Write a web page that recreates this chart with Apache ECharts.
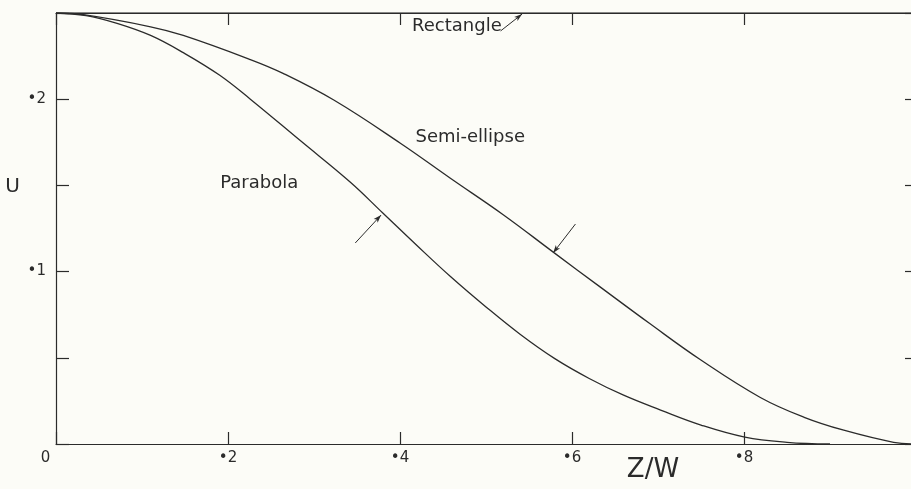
<!DOCTYPE html>
<html><head><meta charset="utf-8">
<script src="https://cdn.jsdelivr.net/npm/echarts@6/dist/echarts.min.js"></script>
<style>html,body{margin:0;padding:0;background:#fcfcf7}#c{width:911px;height:489px}</style>
</head><body><div id="c"></div><script>
// Z/W positions of the x ticks and the lettering under them
const zTicks = [0, 0.2, 0.4, 0.6, 0.8, 1.0];
const zTickLabels = ['0', '•2', '•4', '•6', '•8', ''];
// U ticks every 0.05, lettered only at 0.1 and 0.2
const uTickLabels = { 10: '•1', 20: '•2' };

// U against Z/W for each cross-section shape
const parabola = [
  [0, 0.25], [0.035, 0.2485], [0.071, 0.244], [0.11, 0.237], [0.148, 0.227],
  [0.19, 0.214], [0.226, 0.2], [0.284, 0.176], [0.342, 0.152], [0.38, 0.134],
  [0.42, 0.115], [0.459, 0.097], [0.5, 0.0795], [0.54, 0.0635], [0.58, 0.0495],
  [0.62, 0.038], [0.66, 0.0283], [0.703, 0.0197], [0.75, 0.011], [0.801, 0.004],
  [0.85, 0.001], [0.9, 0]
];
const semiEllipse = [
  [0, 0.25], [0.032, 0.249], [0.11, 0.242], [0.148, 0.237], [0.226, 0.223],
  [0.264, 0.215], [0.323, 0.1995], [0.4, 0.1746], [0.459, 0.154], [0.52, 0.133],
  [0.579, 0.111], [0.633, 0.091], [0.69, 0.07], [0.749, 0.049], [0.819, 0.027],
  [0.87, 0.0155], [0.916, 0.008], [0.974, 0.001], [1.0, 0]
];
const rectangle = [[0, 0.25], [1.0, 0.25]];

// curve names and where their lettering starts (data coords, left edge / middle)
const curveNames = ['Parabola', 'Semi-ellipse', 'Rectangle'];
const namePos = [[0.191, 0.151], [0.418, 0.178], [0.414, 0.242]];
// pointer arrows: tail -> head, data coords
const pointers = [
  [[0.348, 0.1166], [0.378, 0.1328]],
  [[0.604, 0.1276], [0.578, 0.1108]],
  [[0.517, 0.2396], [0.542, 0.2494]]
];
const pointerCurve = [0, 0, -0.35];

const INK = '#2b2b2b';
const FONT = 'DejaVu Sans';

const chart = echarts.init(document.getElementById('c'), null, { renderer: 'canvas' });

function pointerLine(i) {
  return {
    silent: true,
    symbol: ['none', 'arrow'],
    symbolSize: [4, 8],
    lineStyle: { color: INK, width: 1, type: 'solid', curveness: pointerCurve[i] },
    itemStyle: { color: INK },
    label: { show: false },
    data: [[{ coord: pointers[i][0] }, { coord: pointers[i][1] }]]
  };
}

const curveStyle = { color: INK, width: 1.3 };
const frameLine = { show: true, onZero: false, lineStyle: { color: INK, width: 1.2 } };

chart.setOption({
  backgroundColor: '#fcfcf7',
  animation: false,
  grid: { left: 56, top: 13, width: 860, height: 431, containLabel: false, outerBoundsMode: 'none' },
  xAxis: [{
    type: 'value', min: 0, max: 1, interval: 0.2, position: 'bottom',
    name: 'Z/W', nameLocation: 'middle', nameGap: 13, nameMoveOverlap: false,
    nameTextStyle: { fontFamily: FONT, fontSize: 26, color: INK, padding: [0, 0, 0, 334] },
    axisLine: frameLine,
    axisTick: { show: true, inside: true, length: 12, lineStyle: { color: INK, width: 1.2 } },
    splitLine: { show: false },
    axisLabel: {
      margin: 7, color: INK, fontFamily: FONT, fontSize: 15,
      formatter: v => {
        const t = zTickLabels[Math.round(v * 5)] || '';
        return v === 0 ? '{o|' + t + '}' : t;
      },
      rich: { o: { fontFamily: FONT, fontSize: 15, color: INK, padding: [0, 21, 0, 0] } }
    }
  }, {
    type: 'value', min: 0, max: 1, interval: 0.2, position: 'top',
    axisLine: frameLine,
    axisTick: { show: true, inside: true, length: 12, lineStyle: { color: INK, width: 1.2 } },
    axisLabel: { show: false }, splitLine: { show: false }
  }],
  yAxis: [{
    type: 'value', min: 0, max: 0.25, interval: 0.05, position: 'left',
    name: '{u|U}', nameLocation: 'middle', nameRotate: 0, nameGap: 36, nameMoveOverlap: false,
    nameTextStyle: {
      fontFamily: FONT, fontSize: 20, color: INK,
      rich: { u: { fontFamily: FONT, fontSize: 20, color: INK, padding: [0, 0, 83, 0] } }
    },
    axisLine: frameLine,
    axisTick: { show: true, inside: true, length: 13, lineStyle: { color: INK, width: 1.2 } },
    splitLine: { show: false },
    axisLabel: {
      margin: 10, color: INK, fontFamily: FONT, fontSize: 15,
      formatter: v => uTickLabels[Math.round(v * 100)] || ''
    }
  }, {
    type: 'value', min: 0, max: 0.25, interval: 0.05, position: 'right',
    axisLine: frameLine,
    axisTick: { show: true, inside: true, length: 11, lineStyle: { color: INK, width: 1.2 } },
    axisLabel: { show: false }, splitLine: { show: false }
  }],
  series: [{
    name: curveNames[0], type: 'line', data: parabola, showSymbol: false, symbol: 'none',
    smooth: 0.4, lineStyle: curveStyle, z: 3,
    markLine: pointerLine(0)
  }, {
    name: curveNames[1], type: 'line', data: semiEllipse, showSymbol: false, symbol: 'none',
    smooth: 0.4, lineStyle: curveStyle, z: 3,
    markLine: pointerLine(1)
  }, {
    name: curveNames[2], type: 'line', data: rectangle, showSymbol: false, symbol: 'none',
    lineStyle: curveStyle, z: 3,
    markLine: pointerLine(2)
  }]
});

// curve lettering, placed through the grid's own coordinate system
chart.setOption({
  graphic: curveNames.map((name, i) => {
    const p = chart.convertToPixel({ gridIndex: 0 }, namePos[i]);
    return {
      type: 'text', x: p[0], y: p[1], silent: true,
      style: { text: name, fill: INK, font: '18px "' + FONT + '"', textAlign: 'left', textVerticalAlign: 'middle' }
    };
  })
});
</script></body></html>
